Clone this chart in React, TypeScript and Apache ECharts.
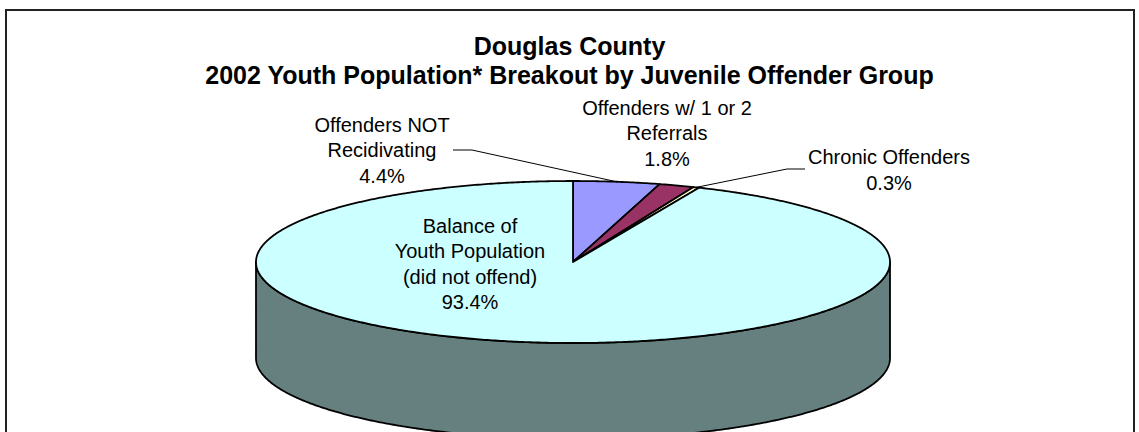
import React, { useEffect, useRef } from "react";
import * as echarts from "echarts";

// ---- data ----
const categories = [
  "Offenders NOT\nRecidivating",
  "Offenders w/ 1 or 2\nReferrals",
  "Chronic Offenders",
  "Balance of\nYouth Population\n(did not offend)",
];
const shares = [4.4, 1.8, 0.3, 93.4];
const sliceColors = ["#9999FF", "#993366", "#FFFFCC", "#CCFFFF"];
const titleLines = ["Douglas County", "2002 Youth Population* Breakout by Juvenile Offender Group"];

// ---- layout (positions / sizes) ----
const PIE = { cx: 573, cy: 262, rx: 317, ry: 81, depth: 96 };
const LABEL_POS = [
  { x: 382, y: 150, leader: [[453, 150], [472, 150]] },
  { x: 667, y: 133, leader: null },
  { x: 889, y: 170, leader: [[805, 169], [787, 169]] },
  { x: 470, y: 264, leader: null },
];
const FONT = '"Liberation Sans", Arial, Helvetica, sans-serif';

function darken(hex: string, f: number) {
  const n = parseInt(hex.slice(1), 16);
  const r = Math.round(((n >> 16) & 255) * f);
  const g = Math.round(((n >> 8) & 255) * f);
  const b = Math.round((n & 255) * f);
  return `rgb(${r},${g},${b})`;
}

function rimPoint(t: number, dy: number) {
  return [PIE.cx + PIE.rx * Math.sin(t), PIE.cy - PIE.ry * Math.cos(t) + dy];
}

function arc(a: number, b: number, dy: number) {
  const pts: number[][] = [];
  const step = Math.PI / 360;
  const n = Math.max(1, Math.ceil(Math.abs(b - a) / step));
  for (let k = 0; k <= n; k++) {
    pts.push(rimPoint(a + ((b - a) * k) / n, dy));
  }
  return pts;
}

const total = shares.reduce((s, v) => s + v, 0);

function renderItem(params: any, api: any) {
  const i = params.dataIndex;
  const v = api.value(0);
  let before = 0;
  for (let k = 0; k < i; k++) before += shares[k];
  const a0 = (before / total) * Math.PI * 2;
  const a1 = ((before + v) / total) * Math.PI * 2;
  const children: any[] = [];

  const s = Math.max(a0, Math.PI / 2);
  const e = Math.min(a1, (Math.PI * 3) / 2);
  if (e > s) {
    const pts = arc(s, e, 0).concat(arc(e, s, PIE.depth));
    children.push({
      type: "polygon",
      z2: 1,
      shape: { points: pts },
      style: { fill: darken(sliceColors[i], 0.5), stroke: "#000", lineWidth: 1.8, lineJoin: "round" },
    });
  }

  children.push({
    type: "polygon",
    z2: 10,
    shape: { points: [[PIE.cx, PIE.cy]].concat(arc(a0, a1, 0)) },
    style: { fill: sliceColors[i], stroke: "#000", lineWidth: 1.8, lineJoin: "round" },
  });

  const lp = LABEL_POS[i];
  if (lp.leader) {
    const mid = rimPoint((a0 + a1) / 2, 0);
    children.push({
      type: "polyline",
      z2: 15,
      shape: { points: lp.leader.concat([mid]) },
      style: { stroke: "#000", lineWidth: 1, fill: null },
    });
  }
  children.push({
    type: "text",
    z2: 20,
    style: {
      x: lp.x,
      y: lp.y,
      text: categories[i] + "\n" + v.toFixed(1) + "%",
      align: "center",
      verticalAlign: "middle",
      fontSize: 20,
      fontFamily: FONT,
      lineHeight: 25.5,
      fill: "#000",
    },
  });

  return { type: "group", children };
}

export default function App() {
  const ref = useRef<HTMLDivElement>(null);
  useEffect(() => {
    if (!ref.current) return;
    const chart = echarts.init(ref.current, undefined, { renderer: "svg" });
    chart.setOption({
      animation: false,
      backgroundColor: "#fff",
      title: {
        text: titleLines.join("\n"),
        left: "center",
        top: 26,
        textStyle: {
          fontFamily: FONT,
          fontWeight: "bold",
          fontSize: 25,
          lineHeight: 29,
          color: "#000",
        },
      },
      graphic: [
        {
          type: "rect",
          shape: { x: 6, y: 10, width: 1128, height: 440 },
          style: { fill: null, stroke: "#222", lineWidth: 2 },
          silent: true,
        },
      ],
      series: [
        {
          type: "custom",
          coordinateSystem: "none",
          renderItem,
          silent: true,
          data: shares.map((v, i) => ({ value: [v], name: categories[i] })),
        },
      ],
    });
    return () => chart.dispose();
  }, []);
  return (
    <div
      ref={ref}
      style={{ position: "fixed", left: 0, top: 0, width: 1139, height: 432, background: "#fff" }}
    />
  );
}
